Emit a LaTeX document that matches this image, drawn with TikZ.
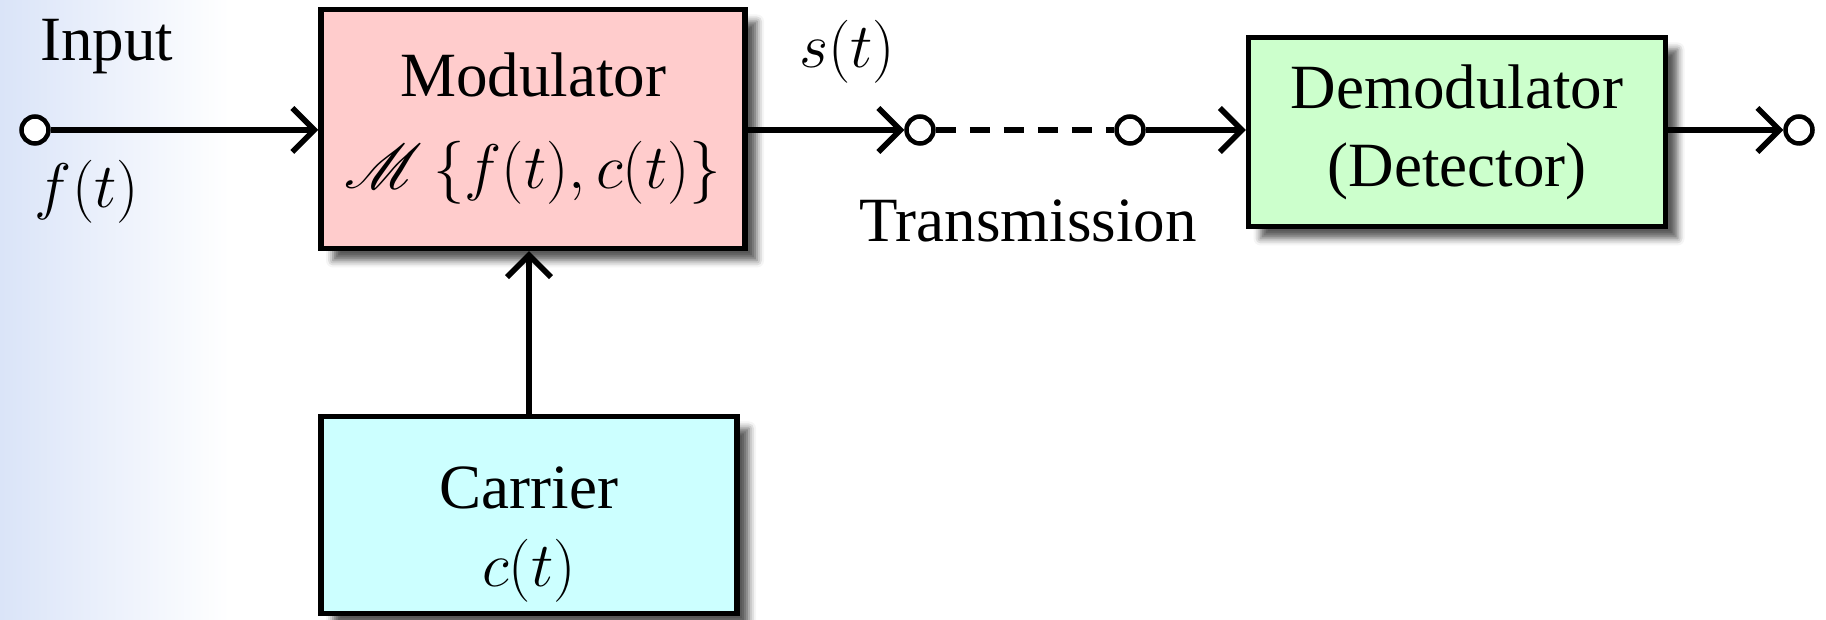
\RequirePackage{fix-cm}
\documentclass[tikz,border=0pt]{standalone}
\usepackage{fontspec}
\setmainfont{Liberation Serif}
\usepackage{mathrsfs}
\DeclareFontFamily{U}{rsfs}{\skewchar\font127 }
\DeclareFontShape{U}{rsfs}{m}{n}{<->rsfs10}{}
\usetikzlibrary{arrows.meta,positioning,shadows.blur}
\definecolor{modpink}{RGB}{255,204,204}
\definecolor{carcyan}{RGB}{204,255,255}
\definecolor{demgreen}{RGB}{204,255,204}
\definecolor{wallblue}{RGB}{218,228,248}

\begin{document}
\begin{tikzpicture}[x=1pt,y=1pt,font=\fontsize{63}{78}\selectfont,
  box/.style={draw,line width=5.5pt,align=center,inner sep=0pt,
    blur shadow={shadow xshift=12pt,shadow yshift=-12pt,shadow blur radius=7pt,shadow opacity=65}},
  modbox/.style={box,fill=modpink,minimum width=424pt,minimum height=239pt},
  carbox/.style={box,fill=carcyan,minimum width=416pt,minimum height=197pt},
  dembox/.style={box,fill=demgreen,minimum width=417pt,minimum height=189pt},
  term/.style={circle,draw,line width=4.5pt,fill=white,minimum size=27pt,inner sep=0pt},
  ar/.style={-{Straight Barb[length=22pt,width=44pt]},line width=5.5pt}]
\useasboundingbox (0,0) rectangle (1826,620);
% background
\shade[left color=wallblue,right color=white] (0,0) rectangle (230,620);
% input
\node[term] (in) at (35,490) {};
\node (inlbl) at (107,573) {Input};
\node (flbl) at (87,428) {$f(t)$};
% blocks
\node[modbox] (mod) at (533,491) {Modulator\\[14pt]$\mathscr{M}\,\bigl\{f(t),c(t)\bigr\}$};
\node[carbox] (car) at (529,105) {\rule{0pt}{80pt}Carrier\\$c(t)$};
\node[dembox] (dem) at (1457,488) {Demodulator\\(Detector)};
% channel terminals
\node[term] (tx) at (920,490) {};
\node[term] (rx) at (1130,490) {};
\node[term] (out) at (1799,490) {};
\node (slbl) at (847,568) {$s(t)$};
\node (trlbl) at (1028,399) {Transmission};
% connections
\draw[ar] (in) -- (in -| mod.west);
\draw[ar] (car.north) -- (car.north |- mod.south);
\draw[ar] (mod.east |- tx) -- (tx);
\draw[line width=5.5pt,dash pattern=on 20pt off 14pt] (tx) -- (rx);
\draw[ar] (rx) -- (rx -| dem.west);
\draw[ar] (dem.east |- out) -- (out);
\end{tikzpicture}
\end{document}
